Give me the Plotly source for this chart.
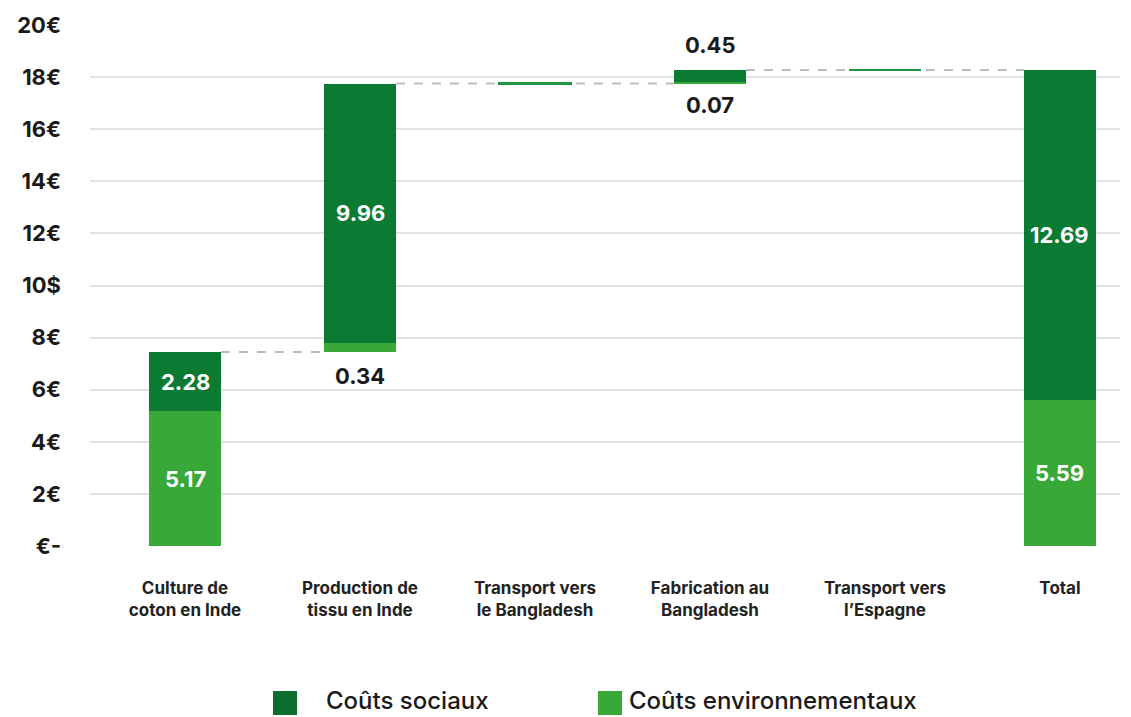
import plotly.graph_objects as go

# Cost breakdown of a cotton garment, step by step
categories = [
    "Culture de<br>coton en Inde",
    "Production de<br>tissu en Inde",
    "Transport vers<br>le Bangladesh",
    "Fabrication au<br>Bangladesh",
    "Transport vers<br>l’Espagne",
    "Total",
]
social = [2.28, 9.96, 0.0, 0.45, 0.0, 12.69]
environment = [5.17, 0.34, 0.005, 0.07, 0.005, 5.59]
is_total = [False, False, False, False, False, True]

y_tickvals = [0, 2, 4, 6, 8, 10, 12, 14, 16, 18, 20]
y_ticktext = ["€-", "2€", "4€", "6€", "8€", "10$", "12€", "14€", "16€", "18€", "20€"]

legend_names = ["Coûts sociaux", "Coûts environnementaux"]

C_SOCIAL = "#0b7a33"
C_SOCIAL_KEY = "#0b6e2d"
C_ENV = "#38a938"
C_GRID = "#e3e3e3"
FONT = "Inter"

W, H = 1131, 717
M_L, M_R, M_T, M_B = 90, 11, 25, 171
PW, PH = W - M_L - M_R, H - M_T - M_B

x = list(range(len(categories)))
BAR_W = 0.41

# running levels of the waterfall
env_base, soc_base, tops = [], [], []
level = 0.0
for e, s, t in zip(environment, social, is_total):
    start = 0.0 if t else level
    env_base.append(start)
    soc_base.append(start + e)
    top = start + e + s
    tops.append(top)
    level = top

fig = go.Figure()

line_w = [2 if (e + s) < 0.02 else 0 for e, s in zip(environment, social)]
fig.add_trace(go.Bar(
    x=x, y=environment, base=env_base, width=BAR_W, name=legend_names[1],
    marker=dict(color=C_ENV, line=dict(color="#1f9440", width=line_w)),
    showlegend=False, hoverinfo="skip",
))
fig.add_trace(go.Bar(
    x=x, y=social, base=soc_base, width=BAR_W, name=legend_names[0],
    marker=dict(color=C_SOCIAL, line=dict(width=0)),
    showlegend=False, hoverinfo="skip",
))

# dashed connectors between consecutive levels
shapes = []
connect = [(0, 1), (1, 3), (3, 5)]
for a, b in connect:
    shapes.append(dict(
        type="line", xref="x", yref="y", layer="below",
        x0=a + BAR_W / 2, x1=b - BAR_W / 2, y0=tops[a], y1=tops[a],
        line=dict(color="#bdbdbd", width=2, dash="dash"),
    ))

# value labels
annotations = []
def inside(xi, y0, val):
    annotations.append(dict(
        x=xi, y=y0 + val / 2, xref="x", yref="y", text=f"{val:.2f}",
        showarrow=False, font=dict(family=FONT, size=22, color="white", weight="bold"),
    ))

def outside(xi, yv, val, shift):
    annotations.append(dict(
        x=xi, y=yv, xref="x", yref="y", text=f"{val:.2f}", yshift=shift,
        showarrow=False, font=dict(family=FONT, size=22, color="#1a1a1a", weight="bold"),
    ))

inside(0, env_base[0], environment[0])
inside(0, soc_base[0], social[0])
inside(1, soc_base[1], social[1])
outside(1, env_base[1], environment[1], -24)
outside(3, tops[3], social[3], 25)
outside(3, env_base[3], environment[3], -22)
inside(5, env_base[5], environment[5])
inside(5, soc_base[5], social[5])

# legend: large square swatches with labels, below the axis
def px_to_paper_x(px):
    return (px - M_L) / PW

def px_to_paper_y(py):
    return (H - M_B - py) / PH

legend_items = [(legend_names[0], C_SOCIAL_KEY, 273, 325),
                (legend_names[1], C_ENV, 598, 628)]
for name, col, sq_x, tx_x in legend_items:
    shapes.append(dict(
        type="rect", xref="paper", yref="paper", layer="above",
        x0=px_to_paper_x(sq_x), x1=px_to_paper_x(sq_x + 24),
        y0=px_to_paper_y(715), y1=px_to_paper_y(691),
        fillcolor=col, line=dict(width=0),
    ))
    annotations.append(dict(
        x=px_to_paper_x(tx_x), y=px_to_paper_y(700), xref="paper", yref="paper",
        xanchor="left", yanchor="middle", text=name, showarrow=False, borderpad=0,
        font=dict(family=FONT, size=24, color="#1a1a1a", weight=500),
    ))

fig.update_layout(
    width=W, height=H,
    margin=dict(l=M_L, r=M_R, t=M_T, b=M_B, autoexpand=False),
    paper_bgcolor="white", plot_bgcolor="white",
    barmode="overlay", bargap=0, showlegend=False,
    shapes=shapes, annotations=annotations,
    font=dict(family=FONT, color="#1a1a1a"),
)
fig.update_xaxes(
    range=[-0.543, 5.343], tickvals=x, ticktext=categories,
    showgrid=False, zeroline=False, showline=False, ticks="",
    tickfont=dict(family=FONT, size=17, color="#222", weight="bold"),
    ticklabelstandoff=30,
)
fig.update_yaxes(
    range=[0, 20], tickvals=y_tickvals, ticktext=y_ticktext,
    showgrid=True, gridcolor=C_GRID, gridwidth=2,
    zeroline=False, showline=False, ticks="",
    tickfont=dict(family=FONT, size=22, color="#1a1a1a", weight="bold"),
    ticklabelstandoff=28,
)

fig.write_html("out.html")
